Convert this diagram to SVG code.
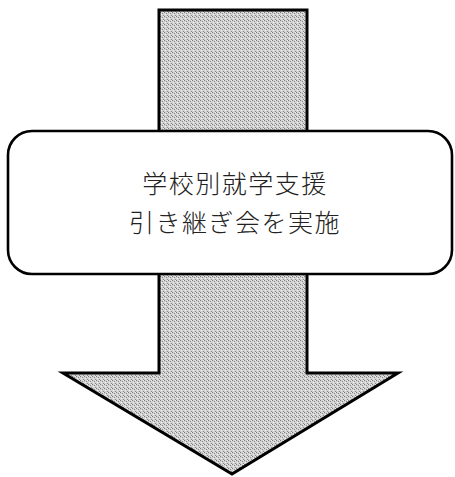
<svg xmlns="http://www.w3.org/2000/svg" width="455" height="477" viewBox="0 0 455 477">
<defs>
<pattern id="stipple" width="4" height="4" patternUnits="userSpaceOnUse">
<rect width="4" height="4" fill="#d2d2d2"/>
<rect x="0" y="0" width="1" height="1" fill="#7a7a7a"/>
<rect x="2" y="1" width="1" height="1" fill="#8a8a8a"/>
<rect x="1" y="2" width="1" height="1" fill="#f2f2f2"/>
<rect x="3" y="3" width="1" height="1" fill="#888888"/>
<rect x="3" y="0" width="1" height="1" fill="#eeeeee"/>
</pattern>
</defs>
<style>
.arrow{fill:url(#stipple);stroke:#000;stroke-width:3;stroke-linejoin:miter}
.box{fill:#fff;stroke:#000;stroke-width:2.6}
.label{font-family:"Noto Sans CJK JP","Noto Sans CJK SC",sans-serif;font-size:25px;font-weight:300;fill:#222;text-anchor:middle;letter-spacing:1.5px}
</style>
<g id="connectors">
<polygon id="big-arrow" class="arrow" points="159,10 307,10 307,373 398,373 232,474 63,373 159,373"/>
</g>
<g id="node-handover">
<rect class="box" x="8" y="131" width="444" height="143" rx="24" ry="24"/>
<text class="label" x="235" y="192.5">学校別就学支援</text>
<text class="label" x="235" y="231.5">引き継ぎ会を実施</text>
</g>
</svg>
